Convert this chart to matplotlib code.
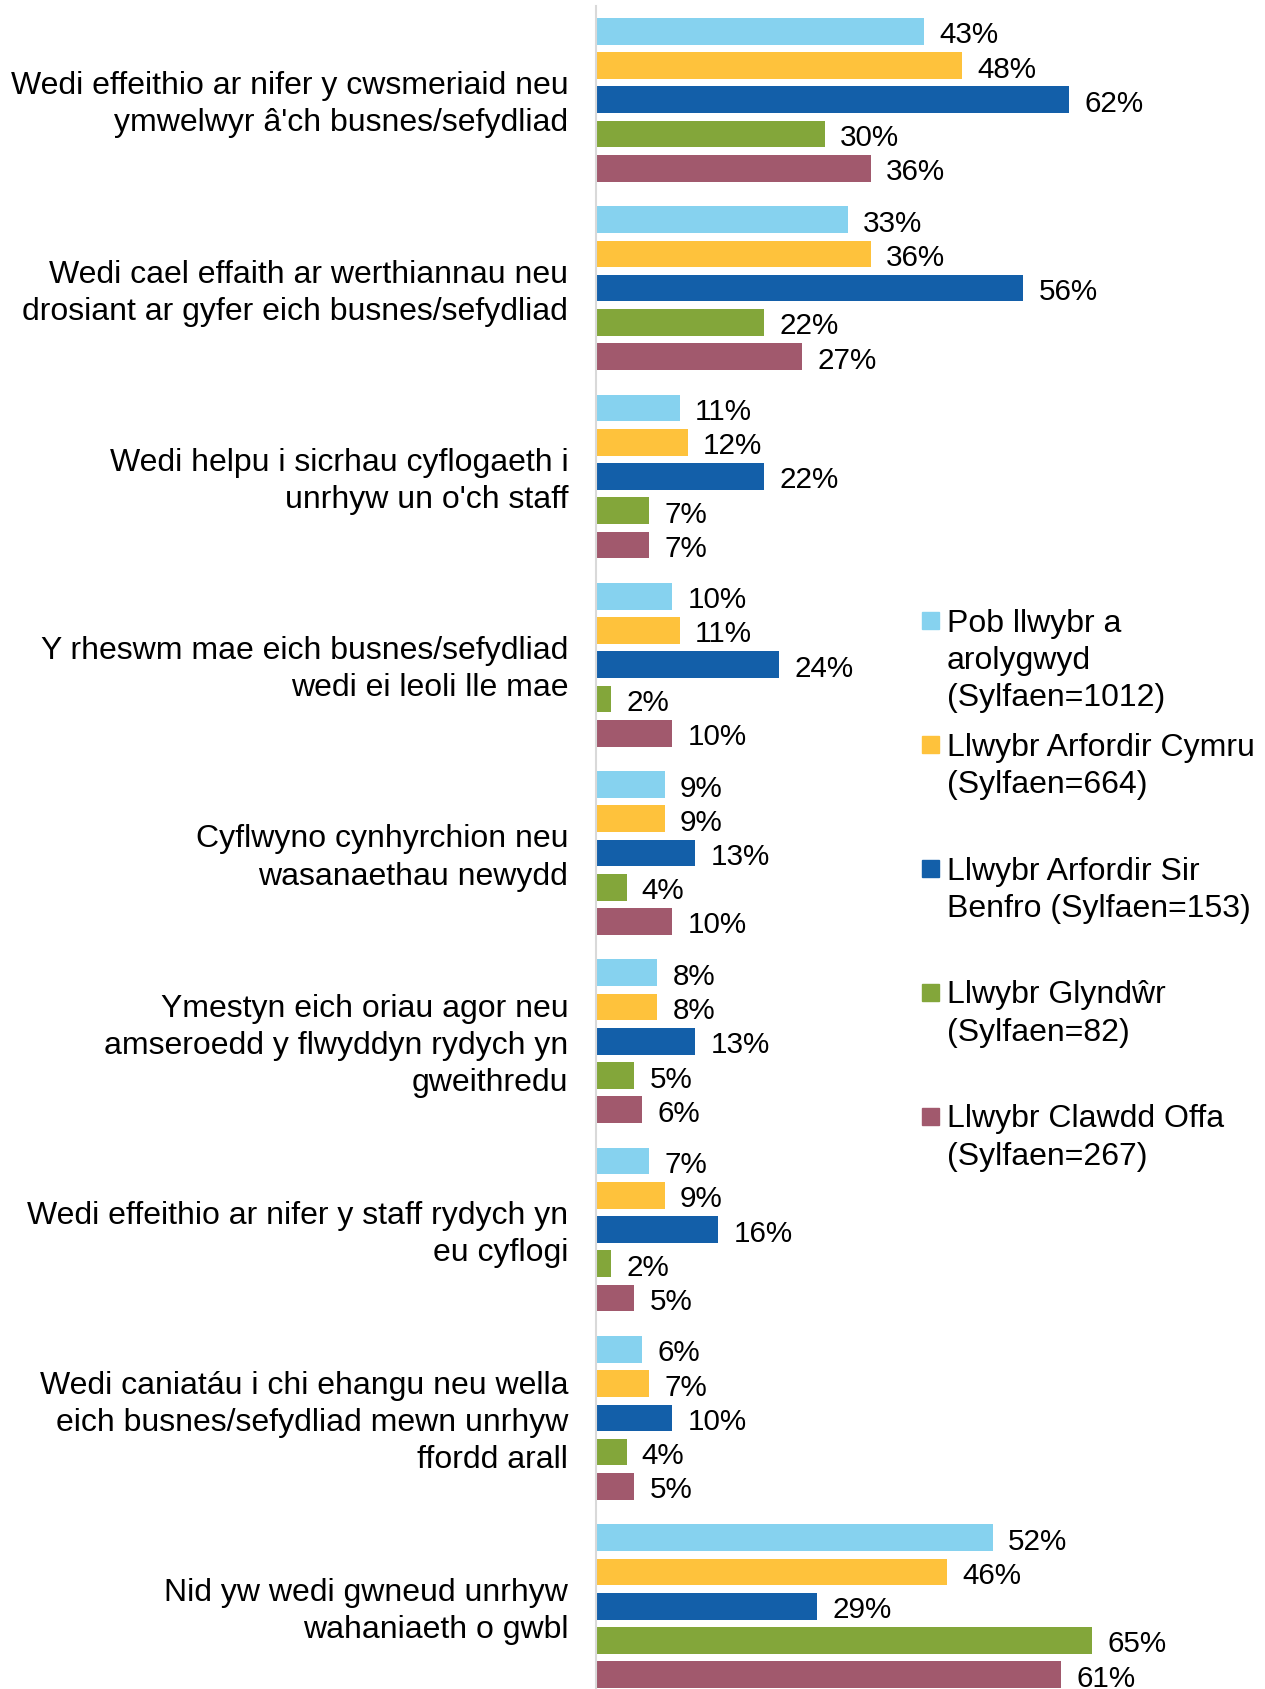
import matplotlib.pyplot as plt
from matplotlib.patches import Rectangle
from matplotlib.transforms import ScaledTranslation
import numpy as np

plt.rcParams['font.family'] = ['Liberation Sans', 'DejaVu Sans']

categories = [
    "Wedi effeithio ar nifer y cwsmeriaid neu\nymwelwyr â'ch busnes/sefydliad",
    "Wedi cael effaith ar werthiannau neu\ndrosiant ar gyfer eich busnes/sefydliad",
    "Wedi helpu i sicrhau cyflogaeth i\nunrhyw un o'ch staff",
    "Y rheswm mae eich busnes/sefydliad\nwedi ei leoli lle mae",
    "Cyflwyno cynhyrchion neu\nwasanaethau newydd",
    "Ymestyn eich oriau agor neu\namseroedd y flwyddyn rydych yn\ngweithredu",
    "Wedi effeithio ar nifer y staff rydych yn\neu cyflogi",
    "Wedi caniatáu i chi ehangu neu wella\neich busnes/sefydliad mewn unrhyw\nffordd arall",
    "Nid yw wedi gwneud unrhyw\nwahaniaeth o gwbl",
]

series_names = [
    "Pob llwybr a\narolygwyd\n(Sylfaen=1012)",
    "Llwybr Arfordir Cymru\n(Sylfaen=664)",
    "Llwybr Arfordir Sir\nBenfro (Sylfaen=153)",
    "Llwybr Glyndŵr\n(Sylfaen=82)",
    "Llwybr Clawdd Offa\n(Sylfaen=267)",
]

pob_llwybr = [43, 33, 11, 10, 9, 8, 7, 6, 52]
arfordir_cymru = [48, 36, 12, 11, 9, 8, 9, 7, 46]
sir_benfro = [62, 56, 22, 24, 13, 13, 16, 10, 29]
glyndwr = [30, 22, 7, 2, 4, 5, 2, 4, 65]
clawdd_offa = [36, 27, 7, 10, 10, 6, 5, 5, 61]

colors = ["#86D2EF", "#FEC23C", "#135FA9", "#83A63A", "#A1596D"]

W, H = 1265, 1690
fig = plt.figure(figsize=(W / 100, H / 100), dpi=100)
ax = fig.add_axes([596 / W, 0, (W - 596) / W, 1 - 7 / H])

fs_lab = 21.3
fs = 23
group_step = 5.5
all_series = [pob_llwybr, arfordir_cymru, sir_benfro, glyndwr, clawdd_offa]
base = np.arange(len(categories)) * group_step

for s, (vals, col) in enumerate(zip(all_series, colors)):
    bars = ax.barh(base + s, vals, height=0.78, color=col)
    texts = ax.bar_label(bars, labels=[f"{v}%" for v in vals], padding=11,
                         fontsize=fs_lab, color="black")
    for t in texts:
        t.set_va("center_baseline")

ax.set_xlim(0, (W - 596) / 7.63)
ax.set_ylim(8 * group_step + 4.42, -0.74)
ax.set_yticks(base + 2)
ax.set_yticklabels(categories, fontsize=fs, linespacing=1.31)
ax.tick_params(axis="y", length=0, pad=20)
shift = ScaledTranslation(0, 3 / 100, fig.dpi_scale_trans)
for lab in ax.get_yticklabels():
    lab.set_transform(lab.get_transform() + shift)
ax.set_xticks([])
for side in ["top", "right", "bottom"]:
    ax.spines[side].set_visible(False)
ax.spines["left"].set_color("#D9D9D9")
ax.spines["left"].set_linewidth(1.5)

# legend, drawn by hand so the fixed slot spacing matches
slot_tops = [621.7, 745.6, 869.6, 993.5, 1117.4]
for name, col, yc in zip(series_names, colors, slot_tops):
    fig.patches.append(Rectangle((922 / W, 1 - (yc + 8.5) / H), 17 / W, 17 / H,
                                 transform=fig.transFigure, color=col))
    fig.text(947 / W, 1 - (yc - 13) / H, name, fontsize=fs, va="top",
             ha="left", linespacing=1.31)

fig.savefig("out.png", dpi=100)
